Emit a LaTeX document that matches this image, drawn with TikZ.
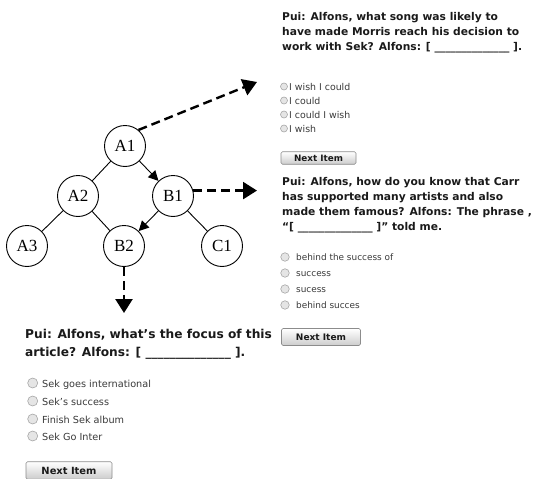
\documentclass[tikz,border=0pt]{standalone}
\usepackage{fontspec}
\setmainfont{DejaVu Sans}
\newfontfamily\treefont{Liberation Serif}
\usetikzlibrary{arrows.meta}
\definecolor{qtext}{HTML}{1A1A1A}
\definecolor{otext}{HTML}{3A3A3A}
\tikzset{
  treenode/.style={circle, draw, line width=0.9pt, minimum size=41pt, inner sep=0pt,
    font=\treefont\fontsize{17}{17}\selectfont},
  tedge/.style={line width=0.9pt},
  tarrow/.style={line width=0.9pt, -{Triangle[length=10pt,width=10pt]}},
  darrow/.style={line width=2.4pt, dash pattern=on 9pt off 5pt, -{Triangle[length=14pt,width=17pt]}},
  qA/.style={anchor=base west, inner sep=0pt, text=qtext, font=\bfseries\fontsize{10.7}{15}\selectfont},
  qB/.style={anchor=base west, inner sep=0pt, text=qtext, font=\bfseries\fontsize{12.2}{18}\selectfont},
  optA/.style={anchor=base west, inner sep=0pt, text=otext, font=\fontsize{9.4}{12}\selectfont},
  optB/.style={anchor=base west, inner sep=0pt, text=otext, font=\fontsize{8.9}{12}\selectfont},
  optC/.style={anchor=base west, inner sep=0pt, text=otext, font=\fontsize{9.7}{12}\selectfont},
  radio/.style={circle, draw=black!35, fill=black!10, line width=0.6pt, inner sep=0pt, minimum size=#1},
  button/.style={rectangle, draw=black!45, line width=0.7pt, rounded corners=1.5pt,
    top color=white, bottom color=black!20, inner sep=0pt, text=qtext},
}
\begin{document}
\begin{tikzpicture}[x=1pt, y=-1pt]
\useasboundingbox (0,0) rectangle (547,479);
\fill[white] (0,0) rectangle (547,479);

% tree
\node[treenode] (A1) at (125,146) {A1};
\node[treenode] (A2) at (78,196) {A2};
\node[treenode] (B1) at (173,196) {B1};
\node[treenode] (A3) at (27,246) {A3};
\node[treenode] (B2) at (124,246) {B2};
\node[treenode] (C1) at (222,246) {C1};
\draw[tedge] (A1) -- (A2);
\draw[tarrow] (A1) -- (B1);
\draw[tedge] (A2) -- (A3);
\draw[tedge] (A2) -- (B2);
\draw[tarrow] (B1) -- (B2);
\draw[tedge] (B1) -- (C1);

\coordinate (t1) at (257,82);
\coordinate (t2) at (257,190);
\coordinate (t3) at (124,313);
\draw[darrow] (A1.50) -- (t1);
\draw[darrow] (B1.15) -- (B1.15 -| t2);
\draw[darrow] (B2.south) -- (t3);

% panel 1
\node[qA] (q1a) at (282,20) {Pui: Alfons, what song was likely to};
\node[qA] (q1b) at (282,35) {have made Morris reach his decision to};
\node[qA] (q1c) at (282,50) {work with Sek? Alfons: [ \_\_\_\_\_\_\_\_\_\_\_\_\_\_ ].};
\node[radio=7pt] (r1a) at (284,86.5) {};
\node[radio=7pt] (r1b) at (284,100.5) {};
\node[radio=7pt] (r1c) at (284,114.5) {};
\node[radio=7pt] (r1d) at (284,128.5) {};
\node[optA] (o1a) at (289,90) {I wish I could};
\node[optA] (o1b) at (289,104) {I could};
\node[optA] (o1c) at (289,118) {I could I wish};
\node[optA] (o1d) at (289,132) {I wish};
\node[button, minimum width=75pt, minimum height=12.5pt,
  font=\bfseries\fontsize{8.8}{10}\selectfont] (b1) at (318.5,158) {Next Item};

% panel 2
\node[qA] (q2a) at (282,185) {Pui: Alfons, how do you know that Carr};
\node[qA] (q2b) at (282,200) {has supported many artists and also};
\node[qA] (q2c) at (282,215) {made them famous? Alfons: The phrase ,};
\node[qA] (q2d) at (282,230) {“[ \_\_\_\_\_\_\_\_\_\_\_\_\_\_ ]” told me.};
\node[radio=8.5pt] (r2a) at (285,257) {};
\node[radio=8.5pt] (r2b) at (285,273) {};
\node[radio=8.5pt] (r2c) at (285,289) {};
\node[radio=8.5pt] (r2d) at (285,305) {};
\node[optB] (o2a) at (296,260.5) {behind the success of};
\node[optB] (o2b) at (296,276.5) {success};
\node[optB] (o2c) at (296,292.5) {sucess};
\node[optB] (o2d) at (296,308.5) {behind succes};
\node[button, minimum width=79pt, minimum height=17pt,
  font=\bfseries\fontsize{9}{10}\selectfont] (b2) at (321,337) {Next Item};

% panel 3
\node[qB] (q3a) at (25,338) {Pui: Alfons, what’s the focus of this};
\node[qB] (q3b) at (25,356) {article? Alfons: [ \_\_\_\_\_\_\_\_\_\_\_\_\_\_ ].};
\node[radio=10pt] (r3a) at (32.7,383) {};
\node[radio=10pt] (r3b) at (32.7,401) {};
\node[radio=10pt] (r3c) at (32.7,419) {};
\node[radio=10pt] (r3d) at (32.7,436) {};
\node[optC] (o3a) at (42,387) {Sek goes international};
\node[optC] (o3b) at (42,405) {Sek’s success};
\node[optC] (o3c) at (42,423) {Finish Sek album};
\node[optC] (o3d) at (42,440) {Sek Go Inter};
\node[button, minimum width=86pt, minimum height=17.5pt,
  font=\bfseries\fontsize{9.9}{11}\selectfont] (b3) at (69,470.5) {Next Item};
\end{tikzpicture}
\end{document}
